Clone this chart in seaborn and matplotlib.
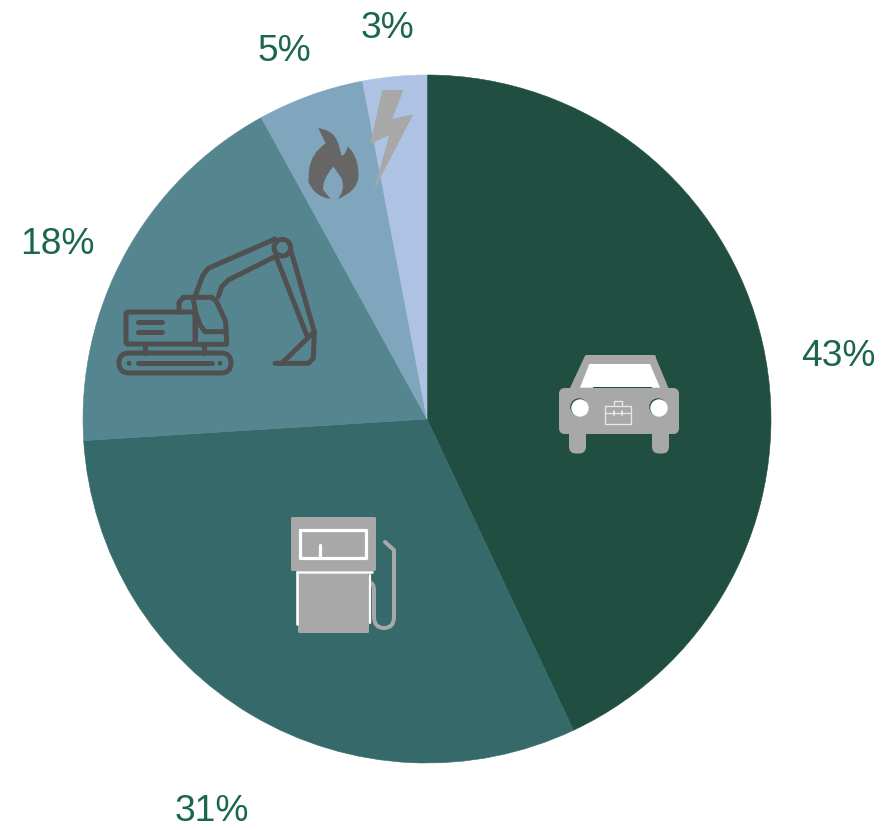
import matplotlib
matplotlib.use('Agg')
import matplotlib.pyplot as plt
import seaborn as sns
from matplotlib.patches import Circle, FancyBboxPatch, PathPatch, Polygon
from matplotlib.path import Path

shares = [43, 31, 18, 5, 3]
slice_colors = ['#204e40', '#366a6a', '#558690', '#7fa6bd', '#aec3e3']
label_xy = [(838.5, 356), (212, 811), (57, 244), (284, 51.5), (387, 28)]

W, H = 881, 830
GREY = '#a8a8a8'
DARK = '#505050'
WHITE = '#ffffff'
EXC_W = 5

sns.set_theme(style='white')
plt.rcParams['font.family'] = ['Liberation Sans', 'DejaVu Sans']

fig = plt.figure(figsize=(W / 100, H / 100), dpi=100, facecolor='white')
ax = fig.add_axes([0, 0, 1, 1])
wedges, _ = ax.pie(shares, colors=sns.color_palette(slice_colors), startangle=90, counterclock=False,
                   center=(427, H - 419), radius=344)
for wedge in wedges:
    # same colour edge, otherwise white seams show between the slices
    wedge.set_edgecolor(wedge.get_facecolor())
    wedge.set_linewidth(0.4)
ax.set_xlim(0, W)
ax.set_ylim(0, H)
ax.axis('off')

# overlay in image pixels for the icons and labels
ic = fig.add_axes([0, 0, 1, 1], facecolor='none')
ic.set_xlim(0, W)
ic.set_ylim(H, 0)
ic.axis('off')


def px(w):
    return w * 0.72


def rrect(x0, y0, x1, y1, r, **kw):
    ic.add_patch(FancyBboxPatch((x0 + r, y0 + r), x1 - x0 - 2 * r, y1 - y0 - 2 * r,
                                boxstyle='round,pad=%f,rounding_size=%f' % (r, r), linewidth=kw.pop('lw', 0), **kw))


def stroke(ox, oy, pts, color=DARK, w=EXC_W, closed=False):
    xs = [ox + p[0] / 3 for p in pts]
    ys = [oy + p[1] / 3 for p in pts]
    if closed:
        xs.append(xs[0])
        ys.append(ys[0])
    ic.plot(xs, ys, color=color, lw=px(w), solid_capstyle='round', solid_joinstyle='round')


def poly(ox, oy, pts, color):
    ic.add_patch(Polygon([(ox + p[0] / 3, oy + p[1] / 3) for p in pts], closed=True, fc=color, ec='none'))


# car
CX, CY = 540, 340
poly(CX, CY, [(135, 47), (345, 47), (390, 155), (85, 155)], GREY)
stroke(CX, CY, [(140, 50), (342, 50)], GREY, 4)
rrect(559, 388, 679, 434, 6, fc=GREY, ec='none')
rrect(569, 425, 586, 453.5, 7, fc=GREY, ec='none')
rrect(652, 425, 669, 453.5, 7, fc=GREY, ec='none')
poly(CX, CY, [(148, 72), (330, 72), (360, 143), (120, 143)], WHITE)
stroke(CX, CY, [(160, 141), (332, 141)], '#204e40', 1)
for hx, hy in [(579, 407), (658, 407)]:
    ic.add_patch(Circle((hx, hy), 8.7, fc='#204e40', ec='none'))
    ic.add_patch(Circle((hx + 1, hy + 1), 8.7, fc=WHITE, ec='none'))
stroke(CX, CY, [(196, 198), (272, 198), (272, 253), (196, 253)], '#e8e8e8', 1.3, closed=True)
stroke(CX, CY, [(221, 198), (221, 182), (247, 182), (247, 198)], '#e8e8e8', 1.3)
stroke(CX, CY, [(196, 218), (272, 218)], '#e8e8e8', 1.3)
stroke(CX, CY, [(221, 212), (221, 225)], '#e8e8e8', 1.8)
stroke(CX, CY, [(247, 212), (247, 225)], '#e8e8e8', 1.8)

# fuel pump
PX, PY = 275, 500
rrect(291, 517, 376, 571, 1.5, fc=GREY, ec='none')
rrect(298, 574, 369, 633, 1.5, fc=GREY, ec='none')
stroke(PX, PY, [(76, 90), (274, 90), (274, 174), (76, 174)], WHITE, 3.2, closed=True)
stroke(PX, PY, [(134, 135), (134, 172)], WHITE, 3.2)
stroke(PX, PY, [(66, 215), (66, 372)], WHITE, 2.6)
stroke(PX, PY, [(66, 217), (292, 217)], WHITE, 2.6)
stroke(PX, PY, [(284, 225), (284, 370)], WHITE, 2.2)
hose = Path([(369, 582), (374, 583), (374, 590), (374, 617), (374, 628), (384, 628), (384, 628),
             (394, 628), (394, 617), (394, 617), (394, 550), (385, 542)],
            [Path.MOVETO, Path.CURVE3, Path.CURVE3, Path.LINETO, Path.CURVE3, Path.CURVE3, Path.LINETO,
             Path.CURVE3, Path.CURVE3, Path.LINETO, Path.LINETO, Path.LINETO])
ic.add_patch(PathPatch(hose, fc='none', ec=GREY, lw=px(4), capstyle='round', joinstyle='round'))

# excavator
EX, EY = 105, 225
rrect(126, 312, 195, 344, 2, fc='none', ec=DARK, lw=px(EXC_W))
stroke(EX, EY, [(98, 292), (172, 292)])
stroke(EX, EY, [(98, 322), (172, 322)])
stroke(EX, EY, [(222, 262), (222, 232), (235, 217), (320, 217), (335, 230), (362, 290), (365, 358), (270, 358)])
stroke(EX, EY, [(265, 225), (272, 262), (285, 300), (300, 320), (360, 320)])
stroke(EX, EY, [(270, 262), (270, 355)])
stroke(EX, EY, [(120, 358), (120, 385)])
stroke(EX, EY, [(298, 358), (298, 385)])
rrect(119, 353, 231, 373, 10, fc='none', ec=DARK, lw=px(EXC_W))
stroke(EX, EY, [(100, 415), (320, 415)], DARK, 5)
for dx, dy in [(72, 415), (345, 415)]:
    ic.add_patch(Circle((EX + dx / 3, EY + dy / 3), 2.4, fc=DARK, ec='none'))
stroke(EX, EY, [(270, 215), (293, 152), (310, 130), (510, 42)])
stroke(EX, EY, [(340, 215), (350, 185), (370, 165), (510, 95)])
ic.add_patch(Circle((EX + 532 / 3, EY + 68 / 3), 8.3, fc='none', ec=DARK, lw=px(EXC_W)))
stroke(EX, EY, [(558, 78), (628, 320), (625, 400), (610, 415), (510, 415)])
stroke(EX, EY, [(515, 100), (605, 330)])
stroke(EX, EY, [(628, 320), (530, 415)])

# flame
FX, FY = 295, 75
flame = [(70, 160), (125, 165), (135, 225), (140, 242), (150, 242), (158, 215),
         (182, 235), (192, 270), (190, 310), (182, 352), (128, 372),
         (152, 345), (140, 310), (115, 275), (80, 315), (85, 345), (107, 372),
         (58, 365), (40, 320), (42, 285), (48, 235), (92, 205)]
flame_codes = [Path.MOVETO, Path.CURVE3, Path.CURVE3, Path.LINETO, Path.CURVE3, Path.CURVE3,
               Path.CURVE4, Path.CURVE4, Path.CURVE4, Path.CURVE3, Path.CURVE3,
               Path.CURVE3, Path.CURVE3, Path.LINETO, Path.CURVE3, Path.CURVE3, Path.LINETO,
               Path.CURVE3, Path.CURVE3, Path.LINETO, Path.CURVE3, Path.CURVE3]
flame_px = [(FX + p[0] / 3, FY + p[1] / 3) for p in flame]
ic.add_patch(PathPatch(Path(flame_px + [flame_px[0]], flame_codes + [Path.LINETO]), fc='#666666', ec='none'))

# bolt
poly(FX, FY, [(262, 45), (325, 45), (292, 132), (355, 118), (237, 345), (283, 180), (225, 208)], GREY)

for share, (lx, ly) in zip(shares, label_xy):
    ic.text(lx, ly, '%d%%' % share, color='#1a6650', fontsize=26.7, ha='center', va='center')

fig.savefig('out.png', dpi=100)
